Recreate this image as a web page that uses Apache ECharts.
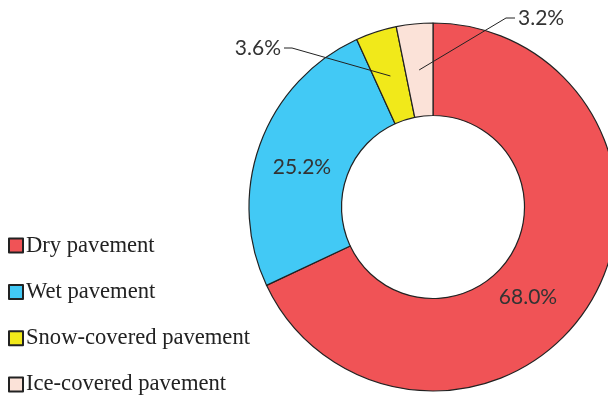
<!DOCTYPE html>
<html>
<head>
<meta charset="utf-8">
<script src="https://cdn.jsdelivr.net/npm/echarts@6/dist/echarts.min.js"></script>
<style>
  html, body { margin: 0; padding: 0; background: #fff; }
  #chart { width: 608px; height: 396px; }
</style>
</head>
<body>
<div id="chart"></div>
<script>
// Crash share by road-surface condition
const categories = ['Dry pavement', 'Wet pavement', 'Snow-covered pavement', 'Ice-covered pavement'];
const shares = [68.0, 25.2, 3.6, 3.2];
const colors = ['#F05356', '#42C9F5', '#F1E91A', '#FBE2D8'];

// Ring geometry (pixels)
const CX = 433, CY = 207, R_IN = 91.5, R_OUT = 184;
const R_MID = (R_IN + R_OUT) / 2;

// Where each percentage label sits; small slices get a leader line
const labelSpots = [
  { x: 528, y: 297, align: 'center' },
  { x: 302, y: 167, align: 'center' },
  { x: 281, y: 48, align: 'right', elbow: [292, 48], tail: [284, 48] },
  { x: 518, y: 18, align: 'left', elbow: [506, 18], tail: [515, 18] }
];

const total = shares.reduce((a, b) => a + b, 0);
// Point halfway through the ring at the middle angle of slice i
function midPoint(i) {
  let before = 0;
  for (let k = 0; k < i; k++) before += shares[k];
  const theta = 2 * Math.PI * (before + shares[i] / 2) / total;
  return [CX + R_MID * Math.sin(theta), CY - R_MID * Math.cos(theta)];
}

const data = categories.map((name, i) => ({
  name,
  value: shares[i],
  itemStyle: { color: colors[i] }
}));

// Leader lines from the ring to the small-slice labels
const leaders = labelSpots
  .map((s, i) => s.elbow ? {
    type: 'polyline',
    silent: true,
    z: 100,
    shape: { points: [midPoint(i), s.elbow, s.tail] },
    style: { stroke: '#222', lineWidth: 1, fill: null }
  } : null)
  .filter(Boolean);

const chart = echarts.init(document.getElementById('chart'), null, { renderer: 'canvas' });
chart.setOption({
  animation: false,
  backgroundColor: '#ffffff',
  legend: {
    orient: 'vertical',
    left: 8,
    bottom: 0,
    padding: 0,
    itemWidth: 14,
    itemHeight: 14,
    itemGap: 23.3,
    icon: 'rect',
    data: categories,
    textStyle: {
      fontFamily: '"Liberation Serif", serif',
      fontSize: 22.6,
      color: '#222',
      padding: [0, 0, 0, -2]
    }
  },
  graphic: leaders,
  series: [{
    type: 'pie',
    center: [CX, CY],
    radius: [R_IN, R_OUT],
    startAngle: 90,
    clockwise: true,
    avoidLabelOverlap: false,
    itemStyle: { borderColor: '#222', borderWidth: 1.2 },
    emphasis: { disabled: true },
    label: {
      show: true,
      position: 'inside',
      formatter: p => p.value.toFixed(1) + '%',
      fontFamily: 'Lato, sans-serif',
      fontSize: 21,
      color: '#333'
    },
    labelLine: { show: false },
    labelLayout: function (params) {
      const s = labelSpots[params.dataIndex];
      return { x: s.x, y: s.y, align: s.align, verticalAlign: 'middle' };
    },
    data: data
  }]
});
</script>
</body>
</html>
